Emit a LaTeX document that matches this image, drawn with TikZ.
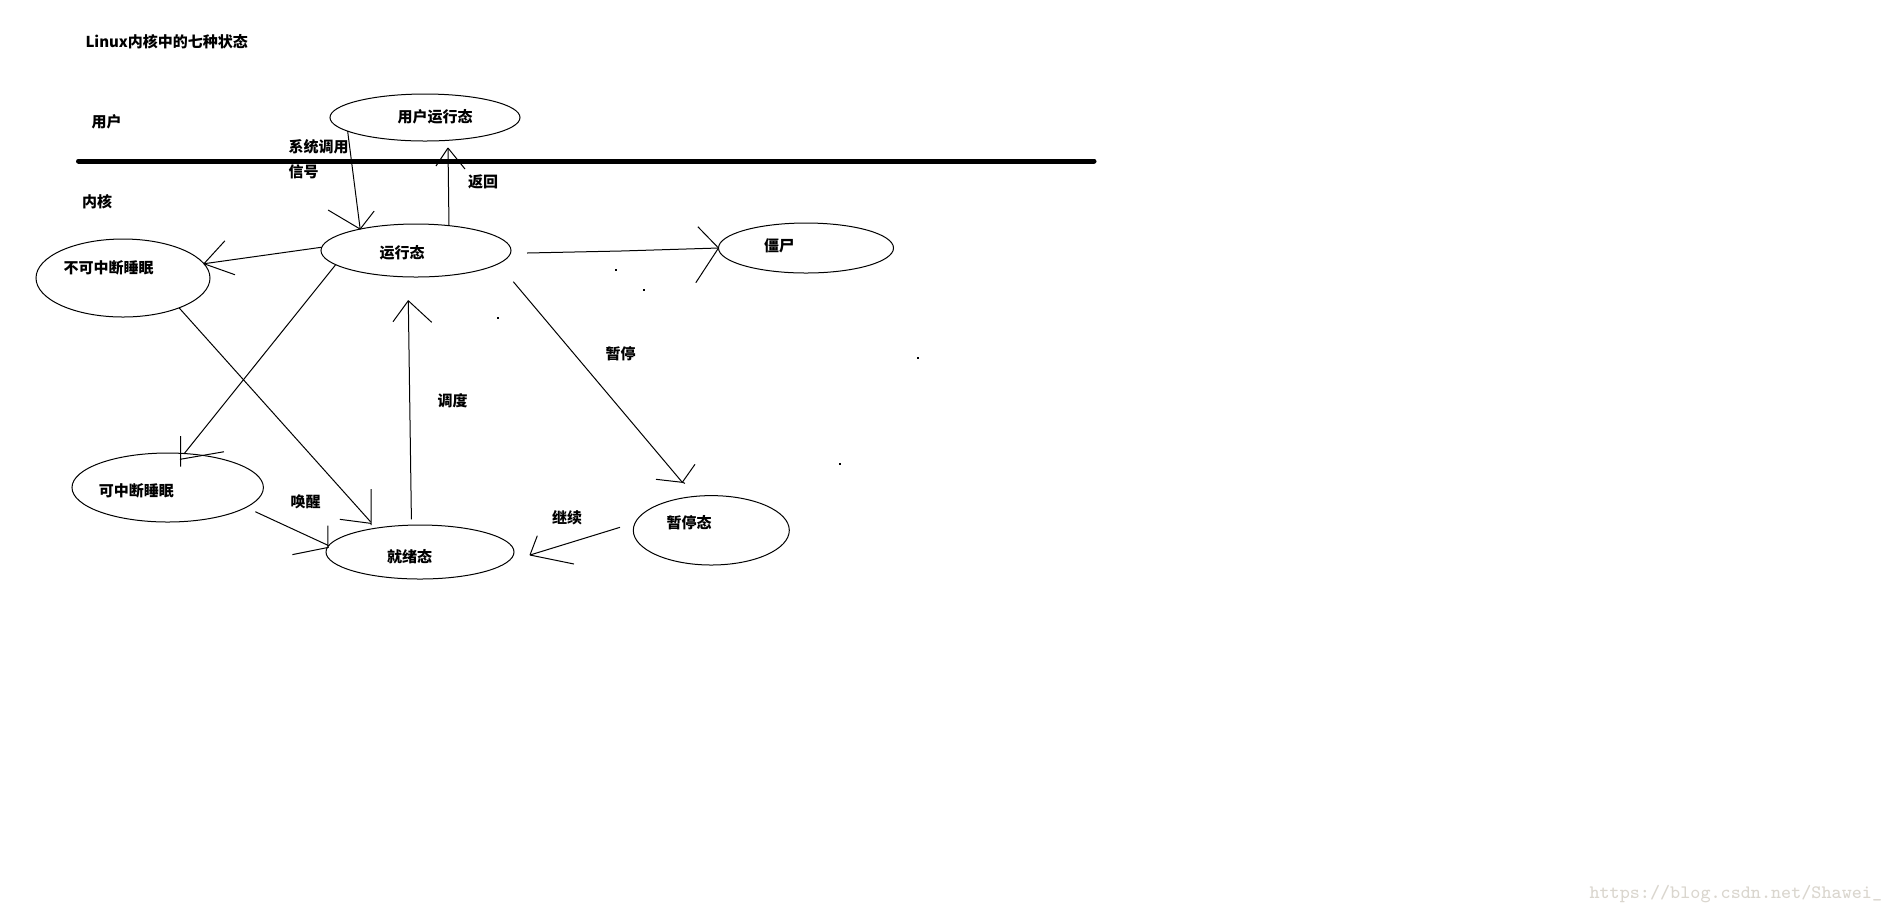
\documentclass[tikz,border=0pt]{standalone}
\usepackage{fontspec}
\usetikzlibrary{shapes.geometric}
\newfontfamily\cjk{Noto Sans CJK SC}
\definecolor{wmc}{RGB}{218,214,206}
\tikzset{
  st/.style={draw, ellipse, inner sep=0pt, outer sep=0pt, line width=0.4pt},
  lbl/.style={anchor=west, inner sep=0pt, font=\cjk\bfseries\fontsize{6pt}{7pt}\selectfont},
  ln/.style={line width=0.4pt},
  divider/.style={line width=2pt, line cap=round},
  speck/.style={fill=black}
}
\begin{document}
\begin{tikzpicture}[x=0.4pt,y=-0.4pt]
\useasboundingbox (0,0) rectangle (1890,916);
\fill[white] (0,0) rectangle (1890,916);

% headings
\node[lbl] (title) at (85,42) {Linux内核中的七种状态};
\node[lbl] (yonghu) at (91,122) {用户};
\node[lbl] (neihe) at (81.5,202) {内核};
\draw[divider] (78.5,161) -- (1094,161);

% states
\node[st, minimum width=76pt, minimum height=18.8pt] (user) at (425,117.5) {};
\node[lbl] (usert) at (397,117) {用户运行态};
\node[st, minimum width=76pt, minimum height=21.2pt] (run) at (416,250.5) {};
\node[lbl] (runt) at (379,253) {运行态};
\node[st, minimum width=69.6pt, minimum height=31.2pt] (unint) at (123,278) {};
\node[lbl] (unintt) at (63,268) {不可中断睡眠};
\node[st, minimum width=76.56pt, minimum height=27.6pt] (inter) at (167.7,487.5) {};
\node[lbl] (intert) at (98.4,490.7) {可中断睡眠};
\node[st, minimum width=75.2pt, minimum height=21.6pt] (ready) at (420,552) {};
\node[lbl] (readyt) at (386.5,557) {就绪态};
\node[st, minimum width=70pt, minimum height=20pt] (zombie) at (806,248) {};
\node[lbl] (zombiet) at (763.5,245.7) {僵尸};
\node[st, minimum width=62.4pt, minimum height=27.76pt] (stop) at (711.3,530.3) {};
\node[lbl] (stopt) at (666,522.7) {暂停态};

% edge labels
\node[lbl] (l1) at (288,147) {系统调用};
\node[lbl] (l2) at (288,172) {信号};
\node[lbl] (l3) at (467.7,182) {返回};
\node[lbl] (l4) at (437,401) {调度};
\node[lbl] (l5) at (605,354) {暂停};
\node[lbl] (l6) at (290,501.7) {唤醒};
\node[lbl] (l7) at (551.7,517.3) {继续};

% 1 system call / signal
\draw[ln] (user.190.6) -- (run.159.6);
\draw[ln] (run.159.6) -- ++(-32,-19) (run.159.6) -- ++(14,-18);
% 2 return
\coordinate (rtip) at (448,148);
\draw[ln] (run.37.5) -- (rtip);
\draw[ln] (rtip) -- ++(-12,18) (rtip) -- ++(17,21);
% 3 run -> uninterruptible
\draw[ln] (run.178.5) -- (unint.10.8);
\draw[ln] (unint.10.8) -- ++(21,-23) (unint.10.8) -- ++(31,11);
% 4 run -> zombie
\coordinate (zs) at (527,253);
\draw[ln] (zs) -- (621,251) -- (zombie.180);
\draw[ln] (zombie.180) -- ++(-20.7,-21.3) (zombie.180) -- ++(-22.7,34.7);
% 5 run -> interruptible
\draw[ln] (run.190.7) -- (inter.64);
\draw[ln] (inter.64) ++(-3.7,-17.5) -- ++(0,30.7) (inter.64) ++(-4.3,5.8) -- ++(44,-7.6);
% 6 uninterruptible -> ready
\coordinate (utip) at (370.5,521.7);
\draw[ln] (unint.-28.3) -- (utip);
\draw[ln] (utip) ++(0.7,-32.7) -- ++(0,36) (utip) ++(-30.7,-2.4) -- ++(30.7,4);
% 7 wake up
\coordinate (ws) at (255.3,511.7);
\draw[ln] (ws) -- (ready.176.3);
\draw[ln] (ready.176.3) ++(-0.8,-20) -- ++(0,20.7) (ready.176.3) ++(-36.3,9) -- ++(36.3,-7.3);
% 8 schedule
\coordinate (ds) at (411.4,519.3);
\coordinate (dt) at (408.3,300.7);
\draw[ln] (ds) -- (dt);
\draw[ln] (dt) -- ++(-15.3,21) (dt) -- ++(23.4,21.6);
% 9 stop
\coordinate (ps) at (513.3,281.7);
\coordinate (ptip) at (682.3,482.3);
\draw[ln] (ps) -- (ptip);
\draw[ln] (ptip) -- ++(12.7,-18) (ptip) -- ++(-26.3,-3) (ptip) -- ++(2.7,1);
% 10 continue
\coordinate (cs) at (620,527.3);
\coordinate (ct) at (530,555);
\draw[ln] (cs) -- (ct);
\draw[ln] (ct) -- ++(7.3,-19.3) (ct) -- ++(44,9);

% stray specks
\fill[speck] (615,269) rectangle ++(2,1.5);
\fill[speck] (643,289) rectangle ++(2,1.5);
\fill[speck] (497,317) rectangle ++(2,1.5);
\fill[speck] (917,357) rectangle ++(2,1.5);
\fill[speck] (839,463) rectangle ++(2,1.5);

% watermark
\node[anchor=west, inner sep=0pt, text=wmc, font=\ttfamily\fontsize{7.6pt}{9pt}\selectfont] (wm) at (1589,894) {https://blog.csdn.net/Shawei\_};
\end{tikzpicture}
\end{document}
